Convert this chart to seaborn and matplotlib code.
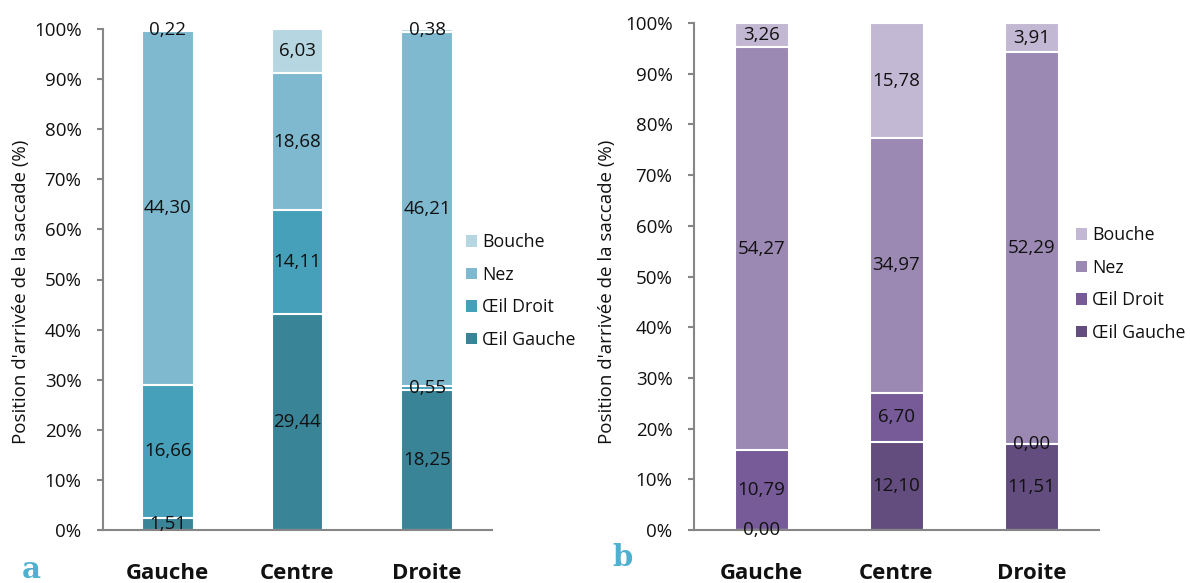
import numpy as np
import pandas as pd
import matplotlib
matplotlib.use("Agg")
import matplotlib.pyplot as plt
import seaborn as sns
from matplotlib.ticker import FuncFormatter, FixedLocator

sns.set_theme(style="white")
plt.rcParams['font.family'] = ['Open Sans', 'DejaVu Sans']

positions = ["Gauche", "Centre", "Droite"]
series = ["Œil Gauche", "Œil Droit", "Nez", "Bouche"]

# Panel a
a_oeil_gauche = [1.51, 29.44, 18.25]
a_oeil_droit = [16.66, 14.11, 0.55]
a_nez = [44.30, 18.68, 46.21]
a_bouche = [0.22, 6.03, 0.38]

# Panel b
b_oeil_gauche = [0.00, 12.10, 11.51]
b_oeil_droit = [10.79, 6.70, 0.00]
b_nez = [54.27, 34.97, 52.29]
b_bouche = [3.26, 15.78, 3.91]

colors_a = ["#3A8498", "#46A0BA", "#7FB9CF", "#B6D7E2"]
colors_b = ["#634C7E", "#775B99", "#9B88B3", "#C3B8D3"]

fig = plt.figure(figsize=(11.9, 5.83), dpi=100)
ax_a = fig.add_axes([103/1190, 1-530/583, (492-103)/1190, (530-29)/583])
ax_b = fig.add_axes([694/1190, 1-530/583, (1099-694)/1190, (530-23)/583])


def draw(ax, vals, colors, legend_xy, ylab_x):
    df = pd.DataFrame(dict(zip(series, vals)), index=positions)
    pct = df.div(df.sum(axis=1), axis=0) * 100
    cum = pct.cumsum(axis=1)
    # draw cumulative bars from top down so they stack
    for s, c in reversed(list(zip(series, colors))):
        d = pd.DataFrame({"pos": positions, "val": cum[s].values})
        sns.barplot(data=d, x="pos", y="val", color=c, width=0.4, ax=ax,
                    edgecolor="white", linewidth=1.5, saturation=1, label=s)
    # labels
    for i, p in enumerate(positions):
        base = 0
        for s in series:
            h = pct.loc[p, s]
            ax.text(i, base + h / 2, f"{df.loc[p, s]:.2f}".replace(".", ","),
                    ha="center", va="center", fontsize=13.5, color="#111111")
            base += h
    ax.set_xlim(-0.5, 2.5)
    ax.set_ylim(0, 100)
    ax.yaxis.set_major_locator(FixedLocator(np.arange(0, 101, 10)))
    ax.yaxis.set_major_formatter(FuncFormatter(lambda v, _: f"{int(v)}%"))
    ax.xaxis.set_minor_locator(FixedLocator([-0.5, 0.5, 1.5, 2.5]))
    ax.tick_params(axis="x", which="major", length=0, pad=24, labelsize=16)
    ax.tick_params(axis="x", which="minor", length=6, width=1.5, color="#868686", direction="out")
    ax.tick_params(axis="y", length=4.5, width=1.5, color="#868686", direction="out",
                   labelsize=13.5, pad=11, left=True, labelcolor="#111111")
    for lab in ax.get_xticklabels():
        lab.set_fontweight("bold")
        lab.set_color("#111111")
    ax.set_xlabel("")
    ax.set_ylabel("Position d'arrivée de la saccade (%)", fontsize=13.5, color="#111111")
    ax.yaxis.set_label_coords(ylab_x, 0.5, transform=fig.transFigure)
    for sp in ["top", "right"]:
        ax.spines[sp].set_visible(False)
    for sp in ["left", "bottom"]:
        ax.spines[sp].set_color("#868686")
        ax.spines[sp].set_linewidth(1.5)
    handles, labels = ax.get_legend_handles_labels()
    leg = ax.legend(handles, labels, loc="center left", bbox_to_anchor=legend_xy,
                    bbox_transform=fig.transFigure, frameon=False, fontsize=12.8,
                    handlelength=0.6, handleheight=0.6, handletextpad=0.3,
                    labelspacing=0.82, borderaxespad=0, labelcolor="#111111")
    for h in leg.legend_handles:
        h.set_edgecolor("none")


draw(ax_a, [a_oeil_gauche, a_oeil_droit, a_nez, a_bouche], colors_a,
     (459/1190, 1-291/583), 30/1190)
draw(ax_b, [b_oeil_gauche, b_oeil_droit, b_nez, b_bouche], colors_b,
     (1069/1190, 1-284/583), 616/1190)

fig.text(22/1190, 1-578/583, "a", fontsize=21, fontweight="bold", color="#4FB0CF",
         family="DejaVu Serif", va="baseline", ha="left")
fig.text(612/1190, 1-566/583, "b", fontsize=21, fontweight="bold", color="#4FB0CF",
         family="DejaVu Serif", va="baseline", ha="left")

fig.savefig("out.png", dpi=100)
